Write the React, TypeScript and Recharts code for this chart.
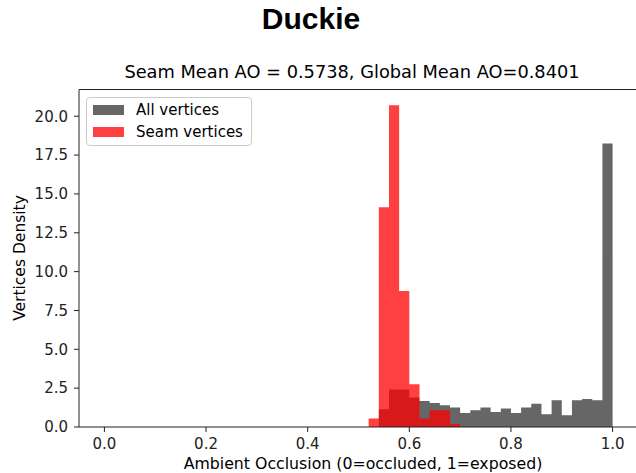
import { ComposedChart, Area, XAxis, YAxis } from "recharts";

// left edges of the 0.02-wide bins (last entry closes the final bin)
const binEdges = [
  0.52, 0.54, 0.56, 0.58, 0.6, 0.62, 0.64, 0.66, 0.68, 0.7, 0.72, 0.74, 0.76,
  0.78, 0.8, 0.82, 0.84, 0.86, 0.88, 0.9, 0.92, 0.94, 0.96, 0.98, 1.0,
];
const allDensity = [
  0, 1.14, 2.41, 2.41, 1.9, 1.68, 1.55, 1.4, 1.25, 0.9, 1.08, 1.25, 0.97,
  1.19, 0.9, 1.25, 1.5, 0.82, 1.72, 0.75, 1.72, 1.8, 1.72, 18.24, 0,
];
const seamDensity = [
  0.54, 14.15, 20.7, 8.75, 2.75, 0.54, 1.08, 1.08, 0.2, 0, 0, 0, 0,
  0, 0, 0, 0, 0, 0, 0, 0, 0, 0, 0, 0,
];
const xTicks = [0, 0.2, 0.4, 0.6, 0.8, 1.0];
const yTicks = [0, 2.5, 5, 7.5, 10, 12.5, 15, 17.5, 20];
const legendItems = [
  { name: "All vertices", color: "#666666", opacity: 1 },
  { name: "Seam vertices", color: "#ff0000", opacity: 0.75 },
];

const data = binEdges.map((x, i) => ({
  x,
  all: allDensity[i],
  seam: seamDensity[i],
}));

const FONT = "'DejaVu Sans', sans-serif";

// legend box like matplotlib's
const LegendBox = () => (
  <div
    style={{
      position: "absolute",
      left: 86,
      top: 97,
      border: "1px solid #cccccc",
      borderRadius: 4,
      background: "rgba(255,255,255,0.8)",
      padding: "1px 8px 2px 6px",
      fontFamily: FONT,
      fontSize: 15,
      color: "#000",
    }}
  >
    {legendItems.map((it) => (
      <div key={it.name} style={{ display: "flex", alignItems: "center", height: 22 }}>
        <span
          style={{
            display: "inline-block",
            width: 31,
            height: 10,
            background: it.color,
            opacity: it.opacity,
            marginRight: 12,
          }}
        />
        {it.name}
      </div>
    ))}
  </div>
);

export default function App() {
  return (
    <div
      style={{
        position: "absolute",
        left: 0,
        top: 0,
        width: 636,
        height: 473,
        overflow: "hidden",
        background: "#fff",
      }}
    >
      <div
        style={{
          position: "absolute",
          left: 0,
          width: 622,
          top: 2,
          textAlign: "center",
          fontFamily: "'Liberation Sans', Arial, sans-serif",
          fontWeight: "bold",
          fontSize: 30,
        }}
      >
        Duckie
      </div>
      <div
        style={{
          position: "absolute",
          left: 52,
          width: 600,
          top: 61,
          textAlign: "center",
          fontFamily: FONT,
          fontSize: 17.8,
        }}
      >
        Seam Mean AO = 0.5738, Global Mean AO=0.8401
      </div>
      <div
        style={{
          position: "absolute",
          left: 20 - 100,
          top: 258 - 10,
          width: 200,
          height: 20,
          lineHeight: "20px",
          textAlign: "center",
          transform: "rotate(-90deg)",
          fontFamily: FONT,
          fontSize: 15.5,
        }}
      >
        Vertices Density
      </div>
      <div
        style={{
          position: "absolute",
          left: 63,
          width: 600,
          top: 454,
          textAlign: "center",
          fontFamily: FONT,
          fontSize: 15.75,
        }}
      >
        Ambient Occlusion (0=occluded, 1=exposed)
      </div>
      <ComposedChart
        width={700}
        height={473}
        data={data}
        margin={{ top: 89.5, right: 62, bottom: 16, left: 19 }}
        style={{ position: "absolute", left: 0, top: 0 }}
      >
        <XAxis
          dataKey="x"
          type="number"
          domain={[-0.05, 1.05]}
          ticks={xTicks}
          allowDataOverflow
          tickFormatter={(v: number) => v.toFixed(1)}
          height={30}
          tickSize={5}
          tickMargin={6}
          stroke="#222"
          tick={{ fill: "#222", fontFamily: FONT, fontSize: 15 }}
        />
        <YAxis
          type="number"
          domain={[0, 21.72]}
          ticks={yTicks}
          allowDataOverflow
          tickFormatter={(v: number) => v.toFixed(1)}
          width={60}
          tickSize={5}
          tickMargin={6}
          stroke="#222"
          tick={{ fill: "#222", fontFamily: FONT, fontSize: 15 }}
        />
        <Area
          type="stepAfter"
          dataKey="all"
          name="All vertices"
          fill="#666666"
          fillOpacity={1}
          stroke="none"
          isAnimationActive={false}
        />
        <Area
          type="stepAfter"
          dataKey="seam"
          name="Seam vertices"
          fill="#ff0000"
          fillOpacity={0.75}
          stroke="none"
          isAnimationActive={false}
        />
      </ComposedChart>
      {/* top spine of the axes frame */}
      <div
        style={{
          position: "absolute",
          left: 79,
          top: 89,
          width: 600,
          height: 0,
          borderTop: "1px solid #222",
        }}
      />
      <LegendBox />
    </div>
  );
}
